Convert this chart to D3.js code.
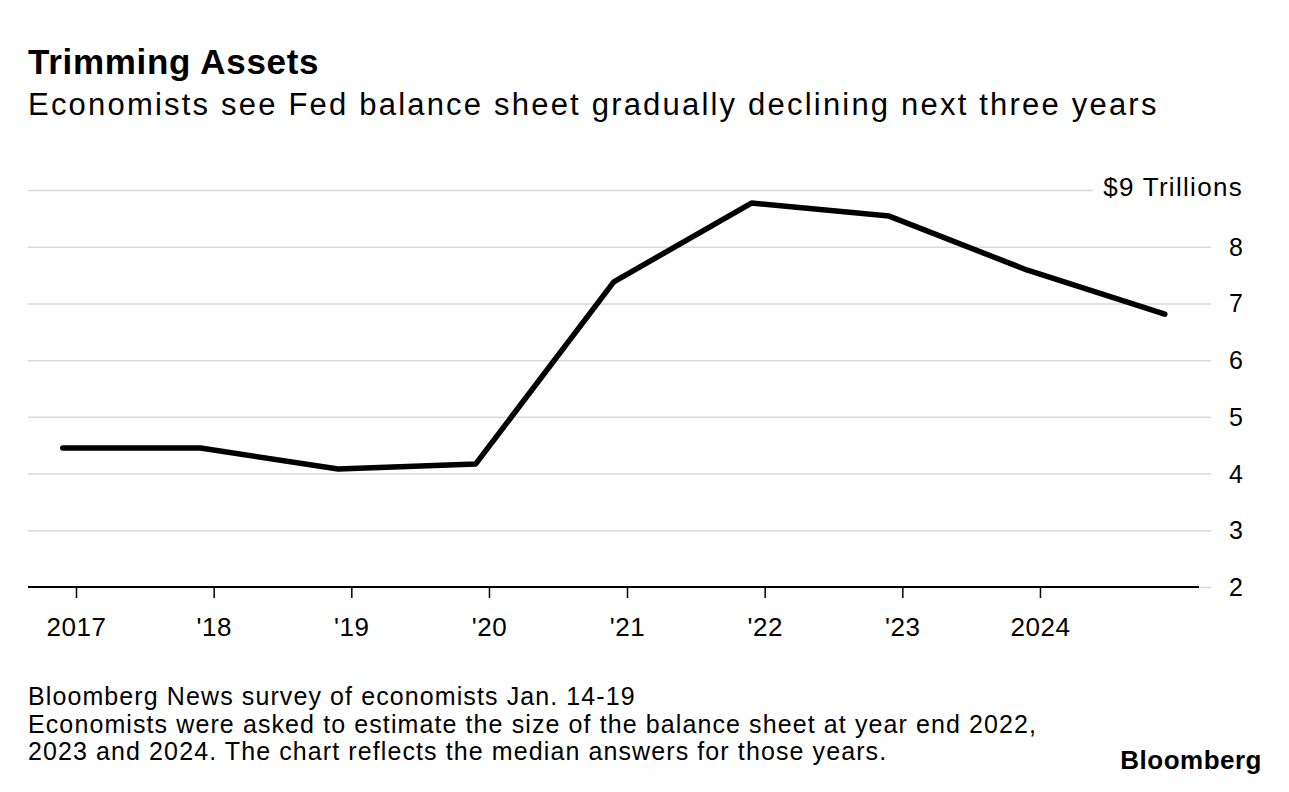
<!DOCTYPE html>
<html>
<head>
<meta charset="utf-8">
<script src="https://cdn.jsdelivr.net/npm/d3@7"></script>
<style>
  body { margin: 0; background: #fff; }
  svg text { font-family: "Liberation Sans", Arial, Helvetica, sans-serif; fill: #000; }
</style>
</head>
<body>
<div id="chart-area"></div>
<script>
// data (trillions of dollars, year end)
const dates = ["2016-11-27", "2017-11-27", "2018-11-27", "2019-11-27", "2020-11-27",
               "2021-11-27", "2022-11-27", "2023-11-27", "2024-11-27"];
const values = [4.45, 4.45, 4.08, 4.17, 7.38, 8.77, 8.54, 7.59, 6.81];
const tickYears = [2017, 2018, 2019, 2020, 2021, 2022, 2023, 2024];
const tickLabels = ["2017", "'18", "'19", "'20", "'21", "'22", "'23", "2024"];
const yTicks = [2, 3, 4, 5, 6, 7, 8, 9];

const width = 1289, height = 792;
const plotLeft = 28, plotRight = 1199, gridRight = 1211;

const svg = d3.select("#chart-area")
  .append("svg")
    .attr("width", width)
    .attr("height", height);

// Titles
svg.append("text")
    .attr("x", 28)
    .attr("y", 74)
    .attr("font-size", "35px")
    .attr("font-weight", "bold")
    .attr("letter-spacing", "0.7px")
    .text("Trimming Assets");

svg.append("text")
    .attr("x", 28)
    .attr("y", 115)
    .attr("font-size", "31px")
    .attr("letter-spacing", "2.2px")
    .text("Economists see Fed balance sheet gradually declining next three years");

const x = d3.scaleUtc()
    .domain([new Date(Date.UTC(2017, 0, 1)), new Date(Date.UTC(2025, 0, 1))])
    .range([76, 1178]);

const y = d3.scaleLinear()
    .domain([2, 9])
    .range([587, 190]);

// Y gridlines + labels
const yAxis = svg.append("g")
    .attr("transform", `translate(${plotLeft}, 0)`)
    .call(d3.axisRight(y)
      .tickValues(yTicks)
      .tickSize(gridRight - plotLeft)
      .tickFormat(d => d === 9 ? "$9 Trillions" : d));

yAxis.select(".domain").remove();
yAxis.selectAll(".tick line")
    .attr("stroke", "#d9d9d9")
    .attr("stroke-width", 1.5)
    .filter(d => d === 9)
    .attr("x2", 1093 - plotLeft);
yAxis.selectAll(".tick text")
    .attr("x", 1243 - plotLeft)
    .attr("dy", "0.34em")
    .attr("text-anchor", "end")
    .attr("font-size", "25px")
    .attr("font-family", null);
yAxis.selectAll(".tick text").filter(d => d === 9)
    .attr("dy", "0.2em")
    .attr("font-size", "26px")
    .attr("letter-spacing", "1.3px");

// X axis
const xAxis = svg.append("g")
    .attr("transform", `translate(0, ${y(2)})`)
    .call(d3.axisBottom(x)
      .tickValues(tickYears.map(t => new Date(Date.UTC(t, 0, 1))))
      .tickSize(11)
      .tickPadding(20)
      .tickFormat((d, i) => tickLabels[i]));

xAxis.select(".domain").remove();
xAxis.selectAll(".tick line")
    .attr("stroke", "#000")
    .attr("stroke-width", 1.5);
xAxis.selectAll(".tick text")
    .attr("font-size", "26px")
    .attr("letter-spacing", "0.5px")
    .attr("font-family", null);

xAxis.append("line")
    .attr("x1", plotLeft)
    .attr("x2", plotRight)
    .attr("stroke", "#000")
    .attr("stroke-width", 2);

// Line
const line = d3.line()
    .x((d, i) => x(new Date(dates[i] + "T00:00:00Z")))
    .y(d => y(d));

svg.append("path")
    .datum(values)
    .attr("fill", "none")
    .attr("stroke", "#000")
    .attr("stroke-width", 5.5)
    .attr("stroke-linejoin", "round")
    .attr("stroke-linecap", "round")
    .attr("d", line);

// Notes
const notes = [
  "Bloomberg News survey of economists Jan. 14-19",
  "Economists were asked to estimate the size of the balance sheet at year end 2022,",
  "2023 and 2024. The chart reflects the median answers for those years."
];
svg.append("g")
  .selectAll("text")
  .data(notes)
  .enter()
  .append("text")
    .attr("x", 28)
    .attr("y", (d, i) => 705 + i * 27.5)
    .attr("font-size", "25px")
    .attr("letter-spacing", "1.1px")
    .text(d => d);

svg.append("text")
    .attr("x", 1262)
    .attr("y", 769)
    .attr("text-anchor", "end")
    .attr("font-size", "26px")
    .attr("font-weight", "bold")
    .attr("letter-spacing", "0.5px")
    .text("Bloomberg");
</script>
</body>
</html>
